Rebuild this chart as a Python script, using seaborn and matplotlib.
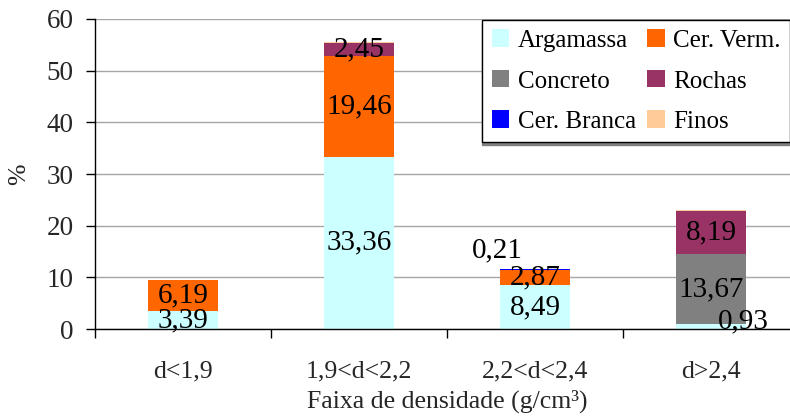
import numpy as np
import pandas as pd
import matplotlib
matplotlib.use("Agg")
import matplotlib.pyplot as plt
from matplotlib.patches import Patch
import seaborn as sns

categories = ["d<1,9", "1,9<d<2,2", "2,2<d<2,4", "d>2,4"]
series = ["Argamassa", "Concreto", "Cer. Verm.", "Rochas", "Cer. Branca", "Finos"]
argamassa = [3.39, 33.36, 8.49, 0.93]
concreto = [0.0, 0.0, 0.0, 13.67]
cer_verm = [6.19, 19.46, 2.87, 0.0]
rochas = [0.0, 2.45, 0.0, 8.19]
cer_branca = [0.0, 0.0, 0.21, 0.0]
finos = [0.0, 0.3, 0.0, 0.3]
colors = {"Argamassa": "#CCFFFF", "Concreto": "#808080", "Cer. Verm.": "#FF6600",
          "Rochas": "#993366", "Cer. Branca": "#0000FF", "Finos": "#FFCC99"}
values = {"Argamassa": argamassa, "Concreto": concreto, "Cer. Verm.": cer_verm,
          "Rochas": rochas, "Cer. Branca": cer_branca, "Finos": finos}
yticks = [0, 10, 20, 30, 40, 50, 60]

sns.set_theme(style="white")
plt.rcParams["font.family"] = ["Liberation Serif", "DejaVu Serif"]
plt.rcParams["text.color"] = "black"

fig = plt.figure(figsize=(7.9, 4.19), dpi=100)
ax = fig.add_axes([95/790, 90/419, 704/790, 310/419])

df = pd.DataFrame(values, index=categories)
cum = df.cumsum(axis=1)

# draw cumulative layers from top to bottom
for s in series[::-1]:
    d = pd.DataFrame({"cat": categories, "val": cum[s].values})
    sns.barplot(data=d, x="cat", y="val", color=colors[s], width=0.4,
                saturation=1, ax=ax, errorbar=None, order=categories,
                edgecolor="none", linewidth=0)

ax.set_ylim(0, 60)
ax.set_xlim(-0.5, 3.5)
ax.set_yticks(yticks)
ax.set_yticklabels([str(t) for t in yticks], fontsize=19.5)
ax.yaxis.grid(True, color="#A6A6A6", linewidth=1)
ax.set_axisbelow(True)
for sp in ["top", "right"]:
    ax.spines[sp].set_visible(False)
for sp in ["left", "bottom"]:
    ax.spines[sp].set_color("black")
    ax.spines[sp].set_linewidth(1)
ax.tick_params(axis="y", which="major", direction="out", length=6.5, width=1,
               color="black", left=True, pad=9)
ax.tick_params(axis="x", which="major", length=0, pad=23, labelsize=18.5)
ax.set_xticks(np.arange(-0.5, 3.6, 1.0), minor=True)
ax.tick_params(axis="x", which="minor", direction="out", length=6.5, width=1,
               color="black", bottom=True)
ax.set_xlabel("Faixa de densidade (g/cm³)", fontsize=18.5, labelpad=5)
ax.set_ylabel("%", fontsize=18.5, labelpad=12)

# data labels
offsets = {(2, "Cer. Branca"): (-27, 13.5), (3, "Argamassa"): (23, 4)}
for i, cat in enumerate(categories):
    for s in series:
        v = values[s][i]
        if v < 0.15 or s == "Finos":
            continue
        y = cum[s].values[i] - v / 2
        off = offsets.get((i, s), (0, 0))
        if (i, s) == (2, "Cer. Branca"):
            y = cum[s].values[i]
        ax.annotate(f"{v:.2f}".replace(".", ","), (i, y), xytext=off,
                    textcoords="offset points", ha="center", va="center",
                    fontsize=21, color="black")

order = ["Argamassa", "Concreto", "Cer. Branca", "Cer. Verm.", "Rochas", "Finos"]
handles = [Patch(facecolor=colors[s], edgecolor="none", label=s) for s in order]
leg = fig.legend(handles=handles, ncol=2, loc="upper left",
                 bbox_to_anchor=(482/790, 1 - 20/419), bbox_transform=fig.transFigure,
                 fontsize=18, frameon=True, fancybox=False,
                 shadow={"ox": 0, "oy": -2, "color": "0.5", "alpha": 1},
                 handlelength=0.7, handleheight=0.7, handletextpad=0.35,
                 columnspacing=0.45, labelspacing=0.72, borderpad=0.38,
                 borderaxespad=0)
leg.get_frame().set_edgecolor("black")
leg.get_frame().set_linewidth(1)
leg.get_frame().set_facecolor("white")

fig.savefig("out.png", dpi=100)
